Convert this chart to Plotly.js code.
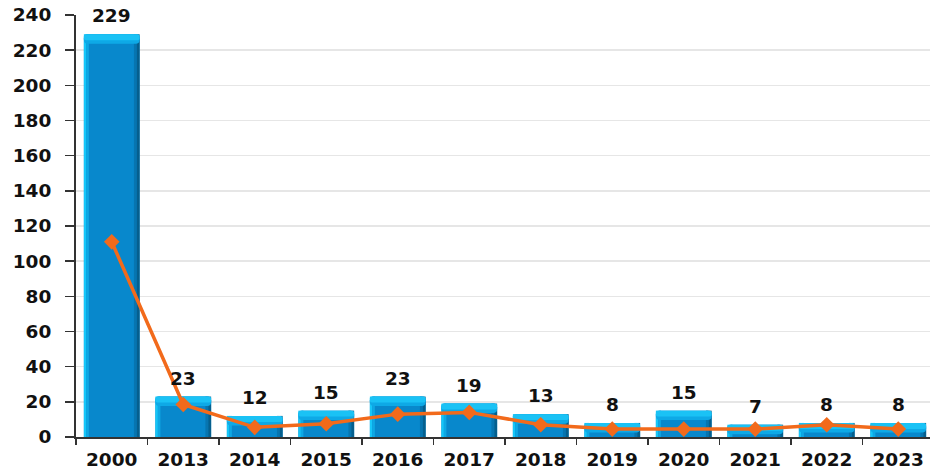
<!DOCTYPE html>
<html>
<head>
<meta charset="utf-8">
<script src="https://cdn.plot.ly/plotly-3.0.1.min.js"></script>
<style>
html,body{margin:0;padding:0;overflow:hidden;background:#fff;}
#chart{width:934px;height:472px;}
</style>
</head>
<body>
<div id="chart"></div>
<script>
var categories = ['2000','2013','2014','2015','2016','2017','2018','2019','2020','2021','2022','2023'];
var barValues = [229, 23, 12, 15, 23, 19, 13, 8, 15, 7, 8, 8];
var lineValues = [111, 18.5, 5.5, 7.5, 13, 14, 7, 4.5, 4.5, 4.5, 7, 4.5];
var yTicks = [0,20,40,60,80,100,120,140,160,180,200,220,240];

var CAP = 3.4, CAP2 = 2.0;
var capBase = barValues.map(function(v){ return v - Math.min(CAP, v); });
var capHeight = barValues.map(function(v){ return Math.min(CAP, v); });
var cap2Base = barValues.map(function(v){ return Math.max(0, v - CAP - CAP2); });
var cap2Height = barValues.map(function(v){ return Math.min(CAP + CAP2, v); });

var W = 0.78;
var mainBar = {type:'bar', x:categories, y:barValues, width:W, marker:{color:'#0888cc', line:{width:0}, cornerradius:4}, hoverinfo:'skip', showlegend:false};
var leftBright = {type:'bar', x:categories, y:barValues, width:0.035, offset:-W/2, marker:{color:'#16c6f8', line:{width:0}}, hoverinfo:'skip', showlegend:false};
var leftMid = {type:'bar', x:categories, y:barValues, width:0.035, offset:-W/2+0.035, marker:{color:'#0ea8e4', line:{width:0}}, hoverinfo:'skip', showlegend:false};
var rightMid = {type:'bar', x:categories, y:barValues, width:0.04, offset:W/2-0.08, marker:{color:'#0775b0', line:{width:0}}, hoverinfo:'skip', showlegend:false};
var rightDark = {type:'bar', x:categories, y:barValues, width:0.04, offset:W/2-0.04, marker:{color:'#055f8e', line:{width:0}}, hoverinfo:'skip', showlegend:false};
var cap2 = {type:'bar', x:categories, y:cap2Height, base:cap2Base, width:W, marker:{color:'#0ea9e6', line:{width:0}, cornerradius:5}, hoverinfo:'skip', showlegend:false};
var cap = {type:'bar', x:categories, y:capHeight, base:capBase, width:W, marker:{color:'#1ac2f5', line:{width:0}, cornerradius:5}, hoverinfo:'skip', showlegend:false};

var line = {type:'scatter', mode:'lines+markers', x:categories, y:lineValues,
  line:{color:'#f26a1b', width:3.5},
  marker:{symbol:'diamond', size:12, color:'#f26a1b'},
  hoverinfo:'skip', showlegend:false};

// annotations on a category axis take the category's serial number
var annotations = categories.map(function(c,i){
  return {x:i, y:barValues[i], text:String(barValues[i]), showarrow:false,
    yanchor:'bottom', yshift:6, font:{family:'DejaVu Sans', size:18.5, color:'#111', weight:'bold'}};
});

var layout = {
  width:934, height:472,
  margin:{l:76, r:0, t:15, b:35},
  paper_bgcolor:'#fff', plot_bgcolor:'#fff',
  barmode:'overlay',
  showlegend:false,
  xaxis:{type:'category', range:[-0.5, 11.5], tickson:'boundaries', ticks:'outside', ticklen:6, tickwidth:1.5, tickcolor:'#333',
    showline:true, linecolor:'#333', linewidth:2, showgrid:false, zeroline:false, ticklabelstandoff:5,
    tickfont:{family:'DejaVu Sans', size:18.5, color:'#111', weight:'bold'}, fixedrange:true},
  yaxis:{range:[0,240], tickvals:yTicks, ticktext:yTicks.map(String), ticks:'outside', ticklen:9, tickwidth:1.5, tickcolor:'#333',
    showline:true, linecolor:'#333', linewidth:2, showgrid:true, gridcolor:'#e6e6e6', gridwidth:1.5, zeroline:false,
    ticklabelstandoff:10,
    tickfont:{family:'DejaVu Sans', size:18.5, color:'#111', weight:'bold'}, fixedrange:true},
  annotations:annotations
};

Plotly.newPlot('chart', [mainBar, leftBright, leftMid, rightMid, rightDark, cap2, cap, line], layout, {displayModeBar:false, staticPlot:true});
</script>
</body>
</html>
